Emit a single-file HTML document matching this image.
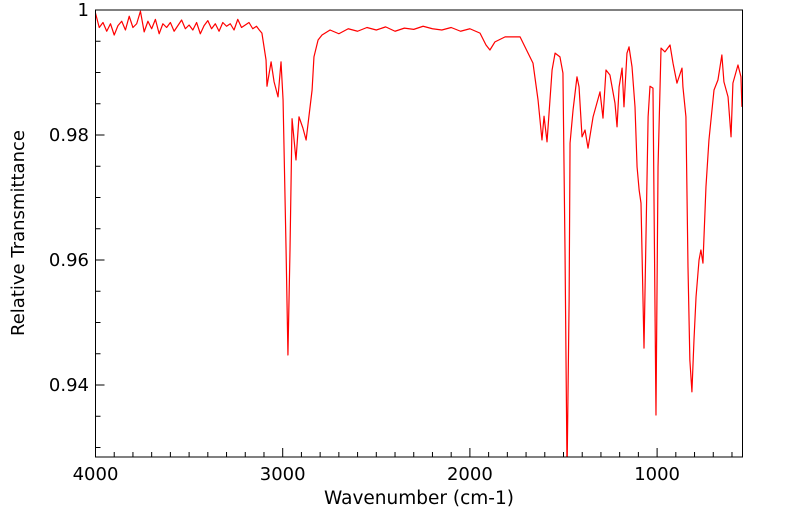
<!DOCTYPE html>
<html><head><meta charset="utf-8"><style>
html,body{margin:0;padding:0;background:#fff;}
svg{display:block;font-family:"DejaVu Sans","Liberation Sans",sans-serif;}
</style></head><body>
<svg id="chart" width="799" height="516" viewBox="0 0 799 516" xmlns="http://www.w3.org/2000/svg">
<defs><clipPath id="plotclip"><rect x="95.5" y="10" width="647" height="447"/></clipPath></defs>
<g id="ticks"></g>
<g id="labels"></g>
<path id="series" clip-path="url(#plotclip)" fill="none" stroke="#ff0000" stroke-width="1.2" stroke-linejoin="round"/>
<rect x="95.5" y="10" width="647" height="447" fill="none" stroke="#000" stroke-width="1"/>
<text x="419" y="504" font-size="18.5" text-anchor="middle">Wavenumber (cm-1)</text>
<text transform="translate(24,233) rotate(-90)" font-size="18" text-anchor="middle">Relative Transmittance</text>
</svg>
<script>
const noisyWn = [4000,3980,3960,3940,3920,3900,3880,3860,3840,3820,3800,3780,3760,3740,3720,3700,3680,3660,3640,3620,3600,3580,3560,3540,3520,3500,3480,3460,3440,3420,3400,3380,3360,3340,3320,3300,3280,3260,3240,3220,3200,3180,3160,3140,3125];
const noisyT = [0.9995,0.9972,0.9980,0.9966,0.9978,0.9960,0.9975,0.9982,0.9968,0.9990,0.9972,0.9978,0.9998,0.9965,0.9982,0.9970,0.9985,0.9962,0.9978,0.9972,0.9980,0.9966,0.9975,0.9984,0.9970,0.9976,0.9968,0.9980,0.9962,0.9975,0.9983,0.9970,0.9978,0.9966,0.9980,0.9974,0.9978,0.9968,0.9985,0.9972,0.9976,0.9980,0.9970,0.9974,0.9968];
const bandWn = [3111,3089,3084,3062,3046,3025,3009,2998,2982,2972,2961,2950,2929,2913,2892,2875,2859,2843,2833,2811,2790,2747,2700,2650,2600,2550,2500,2450,2400,2350,2300,2250,2200,2150,2100,2050,2000,1946,1914,1893,1866,1812,1732,1663,1636,1615,1604,1588,1561,1545,1519,1503,1492,1481,1470,1465,1449,1428,1417,1401,1385,1369,1342,1305,1289,1273,1252,1225,1214,1203,1187,1177,1161,1150,1134,1118,1107,1096,1086,1070,1048,1038,1022,1006,995,979,958,931,915,894,867,862,846,835,825,814,803,792,776,766,755,739,723,696,675,654,643,621,605,595,568,552,547];
const bandT = [0.9963,0.9920,0.9878,0.9917,0.9885,0.9861,0.9917,0.9856,0.9616,0.9448,0.9616,0.9826,0.9760,0.9829,0.9811,0.9792,0.9832,0.9872,0.9925,0.9952,0.9960,0.9968,0.9962,0.9970,0.9966,0.9972,0.9968,0.9973,0.9966,0.9971,0.9969,0.9974,0.9970,0.9968,0.9972,0.9966,0.9970,0.9963,0.9944,0.9936,0.9949,0.9957,0.9957,0.9915,0.9856,0.9792,0.9830,0.9789,0.9904,0.9931,0.9925,0.9899,0.9616,0.9260,0.9536,0.9787,0.9840,0.9893,0.9877,0.9797,0.9808,0.9779,0.9829,0.9869,0.9827,0.9904,0.9896,0.9851,0.9813,0.9877,0.9907,0.9845,0.9931,0.9941,0.9909,0.9845,0.9749,0.9712,0.9691,0.9459,0.9829,0.9878,0.9875,0.9352,0.9749,0.9939,0.9933,0.9944,0.9915,0.9883,0.9907,0.9877,0.9829,0.9589,0.9440,0.9389,0.9472,0.9541,0.9600,0.9616,0.9595,0.9717,0.9792,0.9872,0.9888,0.9928,0.9885,0.9861,0.9797,0.9883,0.9912,0.9893,0.9845];
const xTicks = [4000,3000,2000,1000];
const yTicks = [1,0.98,0.96,0.94];

const X0=95.5, X1=742.5, Y0=10, Y1=457;
const wnMax=4000, wnMin=4000-(X1-X0)/0.1872;
const tMax=1, tMin=1-(Y1-Y0)/6250;
function xs(w){return X0+(wnMax-w)/(wnMax-wnMin)*(X1-X0);}
function ys(t){return Y0+(tMax-t)/(tMax-tMin)*(Y1-Y0);}

const wn = noisyWn.concat(bandWn), tr = noisyT.concat(bandT);
let d='';
for(let i=0;i<wn.length;i++){d+=(i?'L':'M')+xs(wn[i]).toFixed(2)+','+ys(tr[i]).toFixed(2);}
document.getElementById('series').setAttribute('d',d);

const NS='http://www.w3.org/2000/svg';
const tg=document.getElementById('ticks'), lg=document.getElementById('labels');
function line(x1,y1,x2,y2){const l=document.createElementNS(NS,'line');
l.setAttribute('x1',x1);l.setAttribute('y1',y1);l.setAttribute('x2',x2);l.setAttribute('y2',y2);
l.setAttribute('stroke','#000');l.setAttribute('stroke-width','1');


tg.appendChild(l);}
for(let w=4000;w>=wnMin;w-=100){const x=xs(w);const maj=(w%1000===0);line(x,Y1,x,Y1-(maj?9:5));}
for(let t=1;t>=tMin-1e-9;t-=0.005){const y=ys(t);const maj=Math.abs(Math.round(t*50)-t*50)<1e-6;line(X0,y,X0+(maj?9:5),y);}
xTicks.forEach(w=>{const t=document.createElementNS(NS,'text');
t.setAttribute('x',xs(w));t.setAttribute('y',480);t.setAttribute('font-size','18');t.setAttribute('text-anchor','middle');


t.textContent=String(w);lg.appendChild(t);});
yTicks.forEach(v=>{const t=document.createElementNS(NS,'text');
t.setAttribute('x',89);t.setAttribute('y',ys(v)+6);t.setAttribute('font-size','18');t.setAttribute('text-anchor','end');


t.textContent=String(v);lg.appendChild(t);});
</script>
</body></html>
